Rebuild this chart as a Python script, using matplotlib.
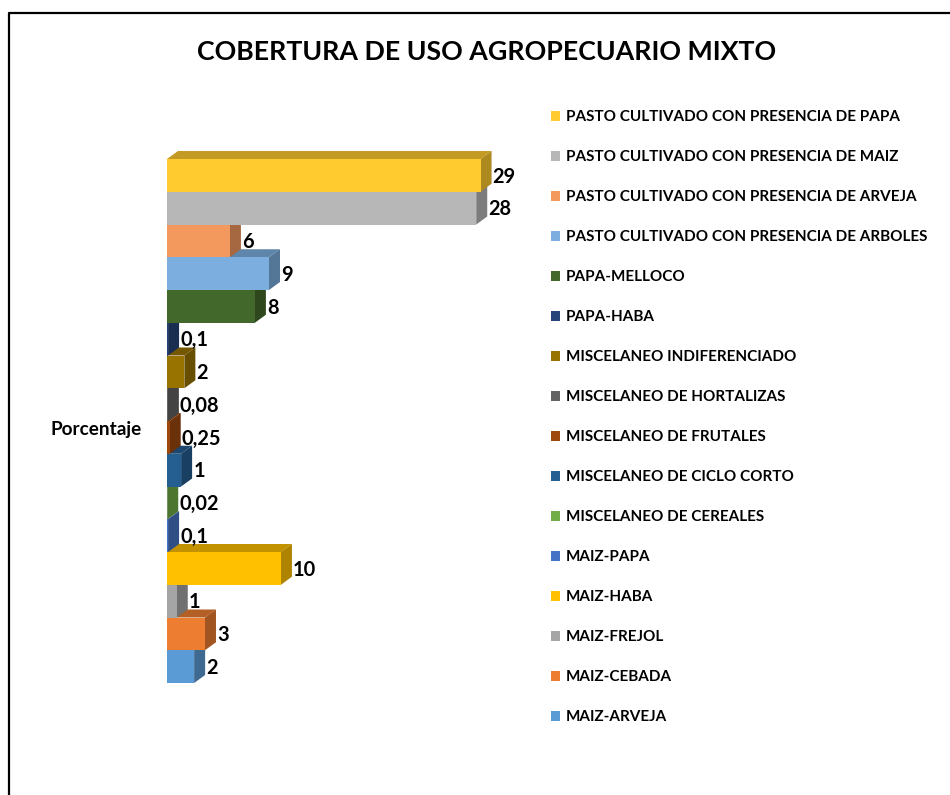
import matplotlib
matplotlib.use('Agg')
from matplotlib import pyplot as plt
from matplotlib.colors import to_rgb
from matplotlib.lines import Line2D
from matplotlib.patches import Polygon, Rectangle

W, H = 950, 795

categories = [
    'PASTO CULTIVADO CON PRESENCIA DE PAPA',
    'PASTO CULTIVADO CON PRESENCIA DE MAIZ',
    'PASTO CULTIVADO CON PRESENCIA DE ARVEJA',
    'PASTO CULTIVADO CON PRESENCIA DE ARBOLES',
    'PAPA-MELLOCO',
    'PAPA-HABA',
    'MISCELANEO INDIFERENCIADO',
    'MISCELANEO DE HORTALIZAS',
    'MISCELANEO DE FRUTALES',
    'MISCELANEO DE CICLO CORTO',
    'MISCELANEO DE CEREALES',
    'MAIZ-PAPA',
    'MAIZ-HABA',
    'MAIZ-FREJOL',
    'MAIZ-CEBADA',
    'MAIZ-ARVEJA',
]
# lengths as drawn, the printed labels are rounded
values = [28.9, 28.5, 5.8, 9.4, 8.1, 0.1, 1.6, 0.08, 0.25, 1.3, 0.02, 0.1, 10.5, 0.9, 3.5, 2.5]
value_labels = ['29', '28', '6', '9', '8', '0,1', '2', '0,08', '0,25', '1', '0,02', '0,1', '10', '1', '3', '2']
colors = ['#FFCB2F', '#B7B7B7', '#F4995E', '#7CAFE0', '#43682B', '#264478', '#997300', '#636363',
          '#9E480E', '#255E91', '#70AD47', '#4472C4', '#FFC000', '#A5A5A5', '#ED7D31', '#5B9BD5']

plt.rcParams['font.family'] = ['Lato', 'DejaVu Sans']
plt.rcParams['font.weight'] = 'bold'


def shade(color, k):
    return tuple(c * k for c in to_rgb(color))


fig = plt.figure(figsize=(W / 100, H / 100), dpi=100)

# marco de la imagen, solo arriba e izquierda
fig.add_artist(Line2D([9 / W, 9 / W, 1], [0, 1 - 13 / H, 1 - 13 / H], transform=fig.transFigure,
                      color='black', linewidth=1.6))

ax = fig.add_axes([167 / W, 1 - 683 / H, 340 / W, 524 / H])
ax.set_xlim(0, 340 / 10.85)
ax.set_ylim(len(values) - 0.5, -0.5)
ax.axis('off')

depth_x = 11 / 10.85
depth_y = 8 / 32.7

# de abajo hacia arriba: cada barra tapa la cara superior de la de abajo
for i in range(len(values) - 1, -1, -1):
    v = values[i]
    y0 = i - 0.5
    y1 = i + 0.5
    z = 2 * (len(values) - i)
    ax.add_patch(Polygon([(0, y0), (depth_x, y0 - depth_y), (v + depth_x, y0 - depth_y), (v, y0)],
                         facecolor=shade(colors[i], 0.76), edgecolor='none', zorder=z, clip_on=False))
    ax.add_patch(Polygon([(v, y0), (v + depth_x, y0 - depth_y), (v + depth_x, y1 - depth_y), (v, y1)],
                         facecolor=shade(colors[i], 0.68), edgecolor='none', zorder=z, clip_on=False))
    ax.barh(i, v, height=1.0, color=colors[i], zorder=z + 1)
    ax.text(v + depth_x + 0.1, i + 0.04, value_labels[i], fontsize=14.4, va='center', ha='left',
            color='black', zorder=100)

fig.text(486.5 / W, 1 - 52 / H, 'COBERTURA DE USO AGROPECUARIO MIXTO', fontsize=19.3,
         ha='center', va='center', color='black')
fig.text(50 / W, 1 - 429.5 / H, 'Porcentaje', fontsize=13.6, ha='left', va='center', color='black')

handles = [Rectangle((0, 0), 1, 1, facecolor=c, edgecolor='none') for c in colors]
leg = fig.legend(handles, categories, loc='upper left', bbox_to_anchor=(546.4 / W, 1 - 105.6 / H),
                 frameon=False, fontsize=10.95, handlelength=0.6, handleheight=0.6, handletextpad=0.39,
                 labelspacing=1.71, borderpad=0.3, borderaxespad=0)
for t in leg.get_texts():
    t.set_color('black')

fig.savefig('out.png', dpi=100)
